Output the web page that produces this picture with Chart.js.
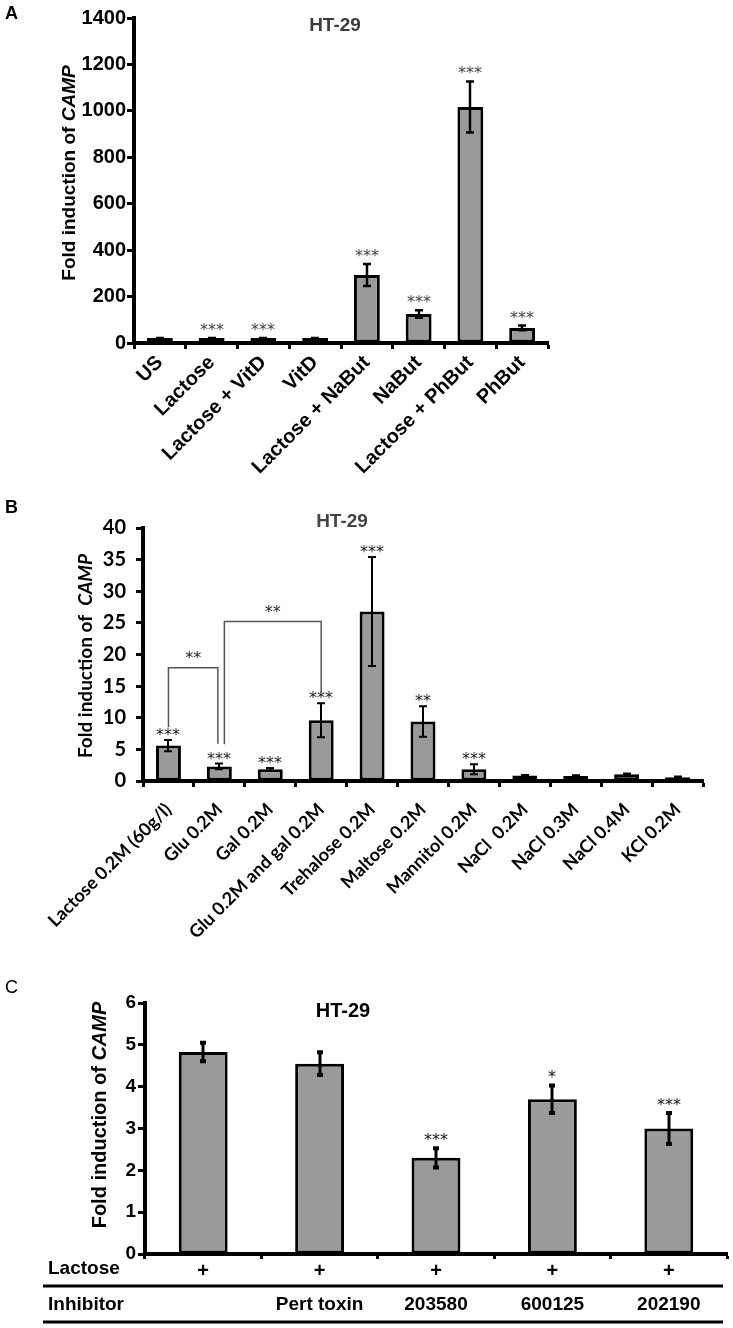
<!DOCTYPE html>
<html>
<head>
<meta charset="utf-8">
<script src="https://cdn.jsdelivr.net/npm/chart.js@4.4.1/dist/chart.umd.min.js"></script>
<style>
  body { margin: 0; background: #fff; }
  #wrap { position: relative; width: 733px; height: 1328px; }
  canvas { position: absolute; left: 0; }
  .tag { position: absolute; left: 5px; font-family: "Liberation Sans", Arial, sans-serif; font-size: 18px; line-height: 18px; }
</style>
</head>
<body>
<div id="wrap">
  <canvas id="chartA" width="733" height="490" style="top:0px"></canvas>
  <canvas id="chartB" width="733" height="490" style="top:490px"></canvas>
  <canvas id="chartC" width="733" height="348" style="top:980px"></canvas>
  <div class="tag" style="top:4px;font-weight:bold">A</div>
  <div class="tag" style="top:498px;font-weight:bold">B</div>
  <div class="tag" style="top:978px">C</div>
</div>
<script>
// ---- panel A ----
const labelsA = ['US', 'Lactose', 'Lactose + VitD', 'VitD', 'Lactose + NaBut', 'NaBut', 'Lactose + PhBut', 'PhBut'];
const valuesA = [2, 8, 8, 3, 293, 125, 1017, 65];
const errorsA = [1, 3, 3, 1, 47, 16, 110, 10];
const starsA = ['', '***', '***', '', '***', '***', '***', '***'];

// ---- panel B ----
const labelsB = ['Lactose 0.2M (60g/l)', 'Glu 0.2M', 'Gal 0.2M', 'Glu 0.2M and gal 0.2M', 'Trehalose 0.2M',
  'Maltose 0.2M', 'Mannitol 0.2M', 'NaCl  0.2M', 'NaCl 0.3M', 'NaCl 0.4M', 'KCl 0.2M'];
const valuesB = [5.6, 2.3, 1.85, 9.6, 26.8, 9.4, 1.85, 0.85, 0.8, 1.05, 0.6];
const errorsB = [0.9, 0.45, 0.2, 2.7, 8.6, 2.4, 0.8, 0.1, 0.1, 0.15, 0.1];
const starsB = ['***', '***', '***', '***', '***', '**', '***', '', '', '', ''];
// comparison brackets (category index from/to, bar level, leg ends, label)
const bracketFrom = [0, 1];
const bracketTo = [1, 3];
const bracketLevel = [17.9, 25.2];
const bracketEndFrom = [8.5, 5.8];
const bracketEndTo = [5.9, 13.9];
const bracketLabel = ['**', '**'];

// ---- panel C ----
const lactoseC = ['+', '+', '+', '+', '+'];
const inhibitorC = ['', 'Pert toxin', '203580', '600125', '202190'];
const valuesC = [4.83, 4.55, 2.3, 3.7, 3.0];
const errorsC = [0.22, 0.27, 0.23, 0.33, 0.37];
const starsC = ['', '', '***', '*', '***'];

const ARIAL = '"Liberation Sans", Arial, sans-serif';
const CALIBRI = 'Lato, "Open Sans", sans-serif';

function decor(cfg) {
  return {
    id: 'decor',
    afterDatasetsDraw(chart) {
      const ctx = chart.ctx;
      const y = chart.scales.y;
      const meta = chart.getDatasetMeta(0);
      ctx.save();
      cfg.values.forEach((v, i) => {
        const px = Math.round(meta.data[i].x);
        const hi = Math.min(y.getPixelForValue(v + cfg.errors[i]), meta.data[i].y);
        const lo = y.getPixelForValue(v - cfg.errors[i]);
        ctx.strokeStyle = '#000';
        ctx.lineWidth = cfg.errWidth;
        ctx.beginPath();
        ctx.moveTo(px, lo);
        ctx.lineTo(px, hi);
        ctx.stroke();
        ctx.lineWidth = cfg.capWidth;
        ctx.beginPath();
        ctx.moveTo(px - cfg.cap, hi); ctx.lineTo(px + cfg.cap, hi);
        ctx.moveTo(px - cfg.cap, lo); ctx.lineTo(px + cfg.cap, lo);
        ctx.stroke();
        if (cfg.stars[i]) {
          ctx.fillStyle = cfg.starColor;
          ctx.font = '16px "DejaVu Sans", sans-serif';
          ctx.textAlign = 'center';
          ctx.textBaseline = 'alphabetic';
          ctx.fillText(cfg.stars[i], px, hi - cfg.starGap + 8);
        }
      });
      ctx.restore();
    },
    afterDraw(chart) {
      const ctx = chart.ctx;
      ctx.save();
      // panel title
      ctx.fillStyle = cfg.titleColor;
      ctx.font = 'bold ' + cfg.titleSize + 'px ' + ARIAL;
      ctx.textAlign = 'center';
      ctx.textBaseline = 'middle';
      ctx.fillText('HT-29', cfg.titleX, cfg.titleY);
      // y axis title with italic gene name
      const f1 = 'bold ' + cfg.yTitleSize + 'px ' + cfg.yTitleFont;
      const f2 = 'italic bold ' + cfg.yTitleSize + 'px ' + cfg.yTitleFont;
      ctx.font = f1;
      const w1 = ctx.measureText(cfg.yTitleText).width;
      ctx.font = f2;
      const w2 = ctx.measureText('CAMP').width;
      ctx.translate(cfg.yTitleX, cfg.yTitleY);
      ctx.rotate(-Math.PI / 2);
      ctx.fillStyle = '#000';
      ctx.textAlign = 'left';
      ctx.font = f1;
      ctx.fillText(cfg.yTitleText, -(w1 + w2) / 2, 0);
      ctx.font = f2;
      ctx.fillText('CAMP', -(w1 + w2) / 2 + w1, 0);
      ctx.restore();
      if (cfg.extra) cfg.extra(chart);
    }
  };
}

function makeChart(id, labels, values, o) {
  const ctx = document.getElementById(id).getContext('2d');
  return new Chart(ctx, {
    type: 'bar',
    data: {
      labels: labels,
      datasets: [{
        data: values,
        backgroundColor: '#9a9a9a',
        borderColor: '#000',
        borderWidth: 3,
        borderSkipped: false,
        minBarLength: o.minBar,
        barPercentage: o.barPct,
        categoryPercentage: 1
      }]
    },
    options: {
      responsive: false,
      animation: false,
      events: [],
      layout: { padding: o.padding },
      plugins: { legend: { display: false }, tooltip: { enabled: false }, title: { display: false } },
      scales: {
        x: {
          grid: { drawOnChartArea: false, drawTicks: true, tickLength: o.xTickLen, tickWidth: 3, tickColor: '#000', offset: true },
          border: { display: true, color: '#000', width: 4 },
          ticks: {
            color: '#000', autoSkip: false, padding: o.xPad,
            maxRotation: o.rot, minRotation: o.rot,
            font: { family: o.xFont, size: o.xSize, weight: 'bold' }
          },
          afterFit(s) { s.height = o.xHeight; }
        },
        y: {
          min: 0, max: o.max,
          grid: { drawOnChartArea: false, drawTicks: true, tickLength: 7, tickWidth: 3, tickColor: '#000' },
          border: { display: true, color: '#000', width: 4 },
          ticks: {
            stepSize: o.step, color: '#000', padding: o.yPad,
            callback: v => String(v),
            font: { family: o.yFont, size: o.ySize, weight: 'bold' }
          },
          afterFit(s) { s.width = o.yWidth; }
        }
      }
    },
    plugins: [decor(o.decor)]
  });
}

makeChart('chartA', labelsA, valuesA, {
  barPct: 0.5, max: 1400, step: 200, rot: 45, minBar: 5,
  padding: { top: 18, right: 185, left: 0, bottom: 0 },
  yWidth: 134, xHeight: 147, xTickLen: 6, xPad: 2, yPad: 1,
  xFont: ARIAL, xSize: 20, yFont: ARIAL, ySize: 20,
  decor: {
    values: valuesA, errors: errorsA, stars: starsA, starColor: '#444', starGap: 11,
    errWidth: 2.5, capWidth: 2.5, cap: 4,
    titleColor: '#3c3c3c', titleSize: 19, titleX: 335, titleY: 26,
    yTitleText: 'Fold induction of ', yTitleFont: ARIAL, yTitleSize: 19, yTitleX: 70, yTitleY: 173
  }
});

makeChart('chartB', labelsB, valuesB, {
  barPct: 0.49, max: 40, step: 5, rot: 45, minBar: 0,
  padding: { top: 38, right: 30, left: 0, bottom: 0 },
  yWidth: 143, xHeight: 199, xTickLen: 6, xPad: 12, yPad: 10,
  xFont: CALIBRI, xSize: 18, yFont: CALIBRI, ySize: 20,
  decor: {
    values: valuesB, errors: errorsB, stars: starsB, starColor: '#222', starGap: 8,
    errWidth: 2, capWidth: 2, cap: 4,
    titleColor: '#444', titleSize: 19, titleX: 342, titleY: 32,
    yTitleText: 'Fold induction of  ', yTitleFont: CALIBRI, yTitleSize: 19, yTitleX: 86, yTitleY: 166,
    extra(chart) {
      const ctx = chart.ctx;
      const x = chart.scales.x, y = chart.scales.y;
      ctx.save();
      ctx.strokeStyle = '#555';
      ctx.lineWidth = 1.5;
      bracketFrom.forEach((f, i) => {
        const x1 = x.getPixelForValue(f) + (i === 0 ? 0 : 5);
        const x2 = x.getPixelForValue(bracketTo[i]) - (i === 0 ? 1.5 : 0);
        const top = y.getPixelForValue(bracketLevel[i]);
        ctx.beginPath();
        ctx.moveTo(x1, y.getPixelForValue(bracketEndFrom[i]));
        ctx.lineTo(x1, top);
        ctx.lineTo(x2, top);
        ctx.lineTo(x2, y.getPixelForValue(bracketEndTo[i]));
        ctx.stroke();
        ctx.fillStyle = '#222';
        ctx.font = '16px "DejaVu Sans", sans-serif';
        ctx.textAlign = 'center';
        ctx.fillText(bracketLabel[i], (x1 + x2) / 2, top - 5);
      });
      ctx.restore();
    }
  }
});

makeChart('chartC', lactoseC, valuesC, {
  barPct: 0.42, max: 6, step: 1, rot: 0, minBar: 0,
  padding: { top: 23, right: 6, left: 0, bottom: 0 },
  yWidth: 145, xHeight: 74, xTickLen: 5, xPad: 0, yPad: 2,
  xFont: ARIAL, xSize: 20, yFont: ARIAL, ySize: 19,
  decor: {
    values: valuesC, errors: errorsC, stars: starsC, starColor: '#111', starGap: 11,
    errWidth: 3, capWidth: 4, cap: 3,
    titleColor: '#000', titleSize: 20, titleX: 343, titleY: 31,
    yTitleText: 'Fold induction of ', yTitleFont: ARIAL, yTitleSize: 20, yTitleX: 100, yTitleY: 135,
    extra(chart) {
      const ctx = chart.ctx;
      const x = chart.scales.x;
      ctx.save();
      ctx.fillStyle = '#000';
      ctx.font = 'bold 19px ' + ARIAL;
      ctx.textBaseline = 'middle';
      ctx.textAlign = 'left';
      ctx.fillText('Lactose', 48, 289);
      ctx.fillText('Inhibitor', 48, 325);
      ctx.textAlign = 'center';
      inhibitorC.forEach((t, i) => {
        if (t) ctx.fillText(t, x.getPixelForValue(i), 325);
      });
      ctx.strokeStyle = '#000';
      ctx.lineWidth = 3;
      ctx.beginPath();
      ctx.moveTo(43, 306); ctx.lineTo(723, 306);
      ctx.moveTo(43, 342); ctx.lineTo(723, 342);
      ctx.stroke();
      ctx.restore();
    }
  }
});
</script>
</body>
</html>
